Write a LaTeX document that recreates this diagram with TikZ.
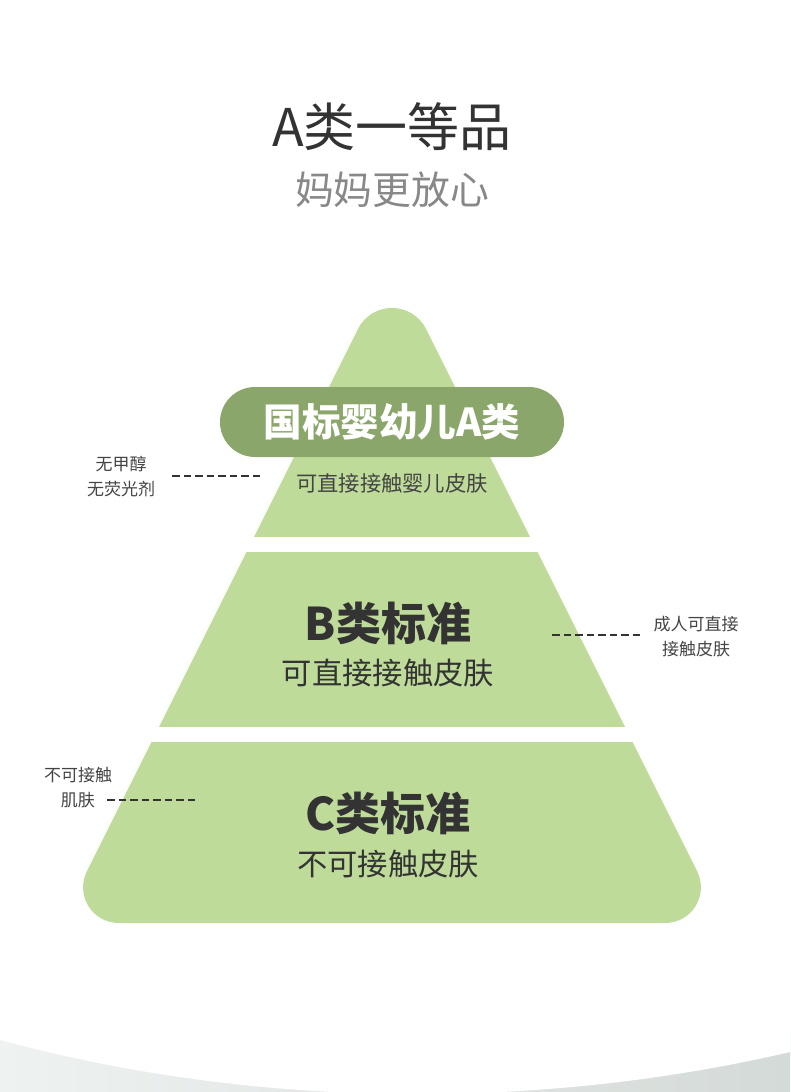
\documentclass[tikz,border=0pt]{standalone}
\usepackage{fontspec}
\newfontfamily\cjk{Noto Sans CJK SC}
\definecolor{pyrgreen}{RGB}{191,219,154}
\definecolor{pillgreen}{RGB}{139,166,106}
\definecolor{txtdark}{RGB}{51,51,51}
\definecolor{txtgray}{RGB}{136,136,136}
\definecolor{sidegray}{RGB}{68,68,68}
\tikzset{
  fs/.style={font=\cjk\fontsize{#1}{#1}\selectfont},
  lbl/.style={inner sep=0pt, align=center},
  dashline/.style={draw=txtdark, line width=1.5pt, dash pattern=on 7.5pt off 4pt},
}
\begin{document}
\begin{tikzpicture}[x=1pt,y=-1pt]
\useasboundingbox (0,0) rectangle (790,1092);
\fill[white] (0,0) rectangle (790,1092);
% bottom backdrop
\shade[left color={rgb,255:red,238;green,242;blue,240}, right color={rgb,255:red,212;green,218;blue,215}] (0,1030) rectangle (790,1092);
\fill[white] (0,1030) -- (0,1040) .. controls (260,1110) and (540,1110) .. (790,1052) -- (790,1030) -- cycle;
% pyramid
\fill[pyrgreen] (358,329) .. controls (372,301) and (412,301) .. (426,329) -- (697,871) .. controls (709,895) and (692,923) .. (665,923) -- (119,923) .. controls (92,923) and (75,895) .. (87,871) -- cycle;
\fill[white] (0,537) rectangle (790,552);
\fill[white] (0,727) rectangle (790,742);
% pill
\fill[pillgreen, rounded corners=35pt] (220,387) rectangle (564,457);
% titles
\node[lbl, fs=52, text=txtdark] (title) at (392,127) {A类一等品};
\node[lbl, fs=38.8, text=txtgray] (subtitle) at (392,190) {妈妈更放心};
% tier A
\node[lbl, fs=38.5, text=white] (tierA) at (392,422) {\bfseries 国标婴幼儿A类};
\node[lbl, fs=21.3, text=sidegray] (descA) at (392,483) {可直接接触婴儿皮肤};
% tier B
\node[lbl, fs=45, text=txtdark] (tierB) at (388,623) {\bfseries B类标准};
\node[lbl, fs=30.3, text=txtdark] (descB) at (388,673) {可直接接触皮肤};
% tier C
\node[lbl, fs=45, text=txtdark] (tierC) at (388,813) {\bfseries C类标准};
\node[lbl, fs=30.3, text=txtdark] (descC) at (388,864) {不可接触皮肤};
% side notes
\node[lbl, fs=17, text=sidegray] (noteA) at (121,476) {无甲醇\\[8pt]无荧光剂};
\node[lbl, fs=17, text=sidegray] (noteB) at (696,637) {成人可直接\\[8pt]接触皮肤};
\node[lbl, fs=17, text=sidegray] (noteC) at (78,788) {不可接触\\[8pt]肌肤};
\coordinate (dA1) at (172,476); \coordinate (dA2) at (260.5,476);
\coordinate (dB1) at (552,635); \coordinate (dB2) at (640.5,635);
\coordinate (dC1) at (107,800); \coordinate (dC2) at (195.5,800);
\draw[dashline] (dA1) -- (dA2);
\draw[dashline] (dB1) -- (dB2);
\draw[dashline] (dC1) -- (dC2);
\end{tikzpicture}
\end{document}
